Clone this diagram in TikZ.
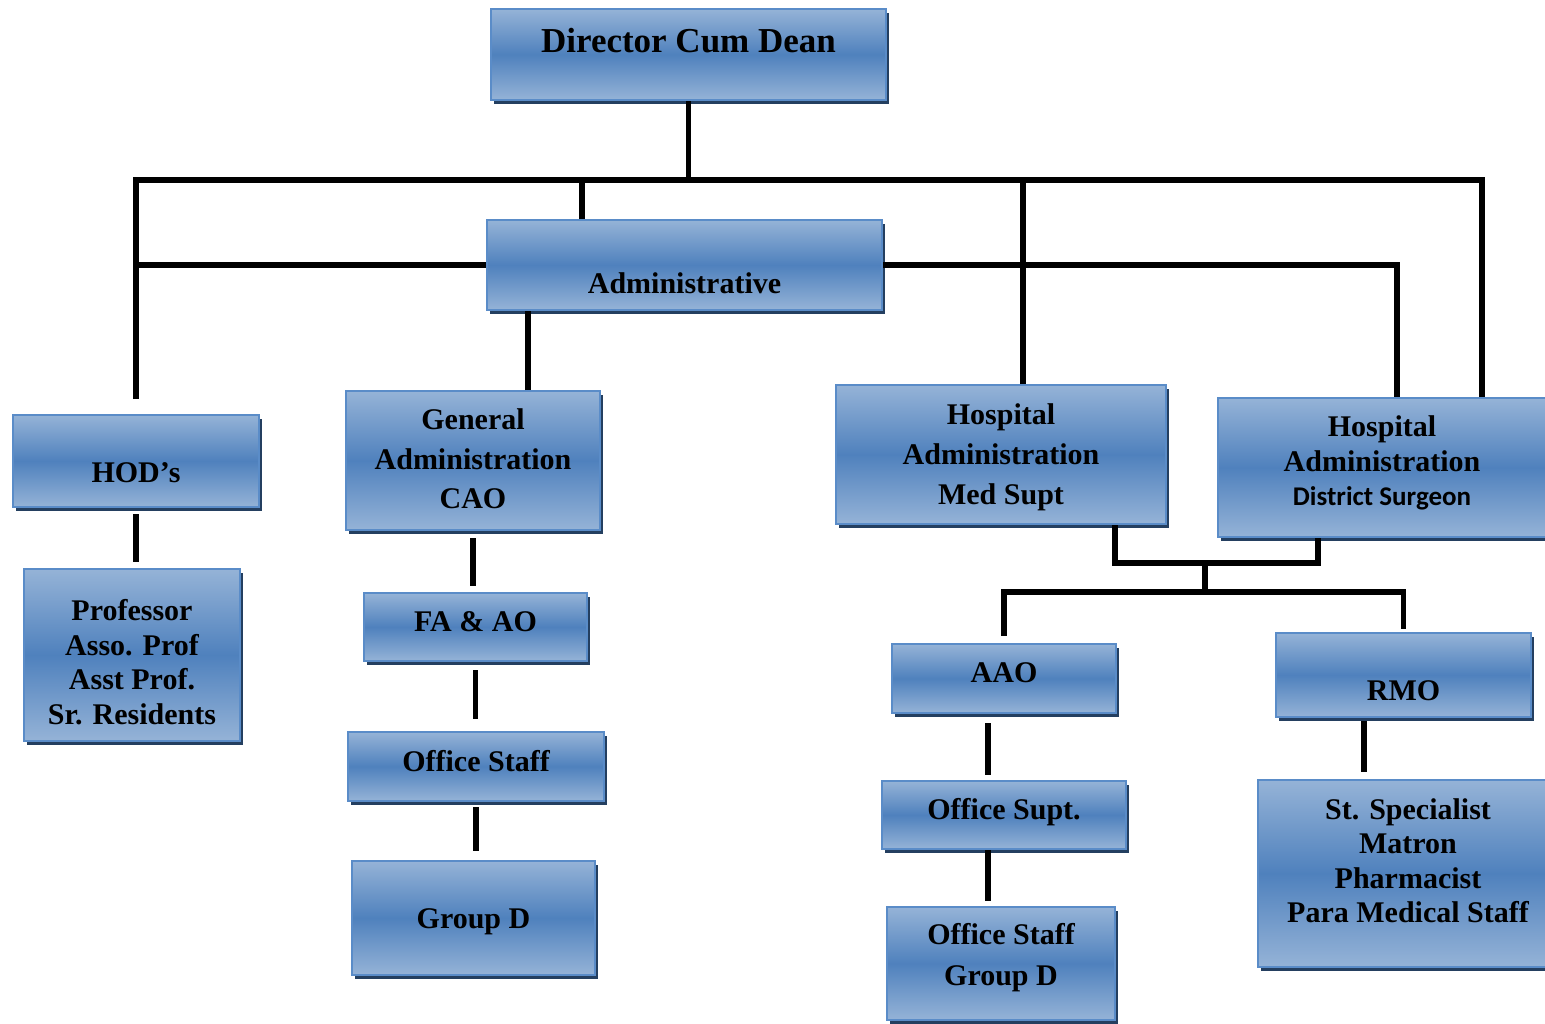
\documentclass[tikz,border=0pt]{standalone}
\usepackage{fontspec}
\setmainfont{Liberation Serif}
\newfontfamily\calibri{Carlito}
\usetikzlibrary{shadows}
\definecolor{boxlight}{HTML}{95B3D7}
\definecolor{boxmid}{HTML}{4F81BD}
\definecolor{boxedge}{HTML}{5A8CC8}
\definecolor{boxshadow}{HTML}{243F60}
% lift, row stretch, lines
\newcommand{\boxlines}[3]{\raisebox{#1}[0pt][0pt]{\renewcommand{\arraystretch}{#2}\begin{tabular}{@{}c@{}}#3\end{tabular}}}
\tikzset{
    font=\fontsize{15}{17.25}\selectfont\bfseries,
    org box/.style={rectangle,draw=boxedge,line width=1pt,inner sep=0pt,
        top color=boxlight,bottom color=boxlight,middle color=boxmid,
        drop shadow={shadow xshift=1.6pt,shadow yshift=-1.8pt,fill=boxshadow,opacity=1}},
    link/.style={line width=2.6pt},
    gap/.style 2 args={shorten <=#1,shorten >=#2}
}
\begin{document}
\begin{tikzpicture}[x=0.5pt,y=-0.5pt]
    \useasboundingbox (0,0) rectangle (1545,1023);
    \clip (0,0) rectangle (1545,1023);
    \node[org box, minimum width=197.5pt, minimum height=45.5pt, font=\fontsize{17.5}{20}\selectfont\bfseries] (dean) at (688.5,54.5) {\boxlines{0.6pt}{1}{Director Cum Dean}};
    \node[org box, minimum width=197.5pt, minimum height=45pt] (adm) at (684.5,265) {\boxlines{-14.3pt}{1}{Administrative}};
    \node[org box, minimum width=123pt, minimum height=46pt] (hod) at (136,461) {\boxlines{-10.8pt}{1}{HOD’s}};
    \node[org box, minimum width=108pt, minimum height=86pt] (prof) at (132,655) {\boxlines{-8.8pt}{1}{Professor\\Asso. Prof\\Asst Prof.\\Sr. Residents}};
    \node[org box, minimum width=127pt, minimum height=69.5pt] (ga) at (473,460.5) {\boxlines{-4pt}{1.145}{General\\Administration\\CAO}};
    \node[org box, minimum width=111.5pt, minimum height=34pt] (fa) at (475.5,627) {\boxlines{-2.3pt}{1}{FA \& AO}};
    \node[org box, minimum width=128pt, minimum height=34.5pt] (os) at (476,766.5) {\boxlines{-2.5pt}{1}{Office Staff}};
    \node[org box, minimum width=121.5pt, minimum height=57pt] (gd) at (473.5,918) {\boxlines{-5.3pt}{1}{Group D}};
    \node[org box, minimum width=165pt, minimum height=69.5pt] (hm) at (1001,454.5) {\boxlines{-4.7pt}{1.16}{Hospital\\Administration\\Med Supt}};
    \node[org box, minimum width=164pt, minimum height=69.5pt] (ds) at (1382,467.5) {\boxlines{-2pt}{1}{Hospital\\Administration\\{\calibri\fontsize{13.5}{16}\selectfont District Surgeon}}};
    \node[org box, minimum width=112pt, minimum height=34.5pt] (aao) at (1004,678.5) {\boxlines{-2pt}{1}{AAO}};
    \node[org box, minimum width=127.5pt, minimum height=42pt] (rmo) at (1403.5,675) {\boxlines{-12.8pt}{1}{RMO}};
    \node[org box, minimum width=122pt, minimum height=34pt] (osup) at (1004,815) {\boxlines{-2.3pt}{1}{Office Supt.}};
    \node[org box, minimum width=114pt, minimum height=56.5pt] (osgd) at (1001,963.5) {\boxlines{-0.1pt}{1.19}{Office Staff\\Group D}};
    \node[org box, minimum width=150pt, minimum height=93.5pt] (ss) at (1408,873.5) {\boxlines{1pt}{1}{St. Specialist\\Matron\\Pharmacist\\Para Medical Staff}};
    \coordinate (busL) at (136,180);
    \coordinate (busR) at (1482,180);
    \coordinate (hsplit) at (1205,563);
    \coordinate (lsplit) at (1205,592);
    % top level
    \draw[link] (dean.south) -- (dean.south |- busL);
    \draw[link, shorten <=7.5pt] (hod.north) |- (busR) -- (busR |- ds.north);
    \draw[link] ([xshift=48pt]adm.north west) -- ([xshift=48pt]adm.north west |- busL);
    \draw[link] ([xshift=11pt]hm.north) -- ([xshift=11pt]hm.north |- busL);
    \draw[link] (adm.west) -- (adm.west -| hod.north);
    \draw[link] (adm.east) -| ([xshift=7.5pt]ds.north);
    \draw[link] ([xshift=27.5pt]ga.north) -- ([xshift=27.5pt]ga.north |- adm.south);
    % left columns
    \draw[link, gap={3pt}{3pt}] (hod.south) -- (hod.south |- prof.north);
    \draw[link, gap={3.5pt}{3pt}] (ga.south) -- (ga.south |- fa.north);
    \draw[link, gap={4pt}{6pt}] (fa.south) -- (fa.south |- os.north);
    \draw[link, gap={2.5pt}{4.5pt}] (os.south) -- (os.south |- gd.north);
    % hospital side
    \draw[link] ([xshift=57pt]hm.south) |- (hsplit) -| ([xshift=-32pt]ds.south);
    \draw[link] (hsplit) -- (lsplit);
    \draw[link, shorten >=3.5pt] (lsplit) -| (aao.north);
    \draw[link, shorten >=1.5pt] (lsplit) -| (rmo.north);
    \draw[link, gap={4.5pt}{2.5pt}] ([xshift=-8pt]aao.south) -- ([xshift=-8pt]aao.south |- osup.north);
    \draw[link, gap={0pt}{2.5pt}] ([xshift=-8pt]osup.south) -- ([xshift=-8pt]osup.south |- osgd.north);
    \draw[link, gap={1.5pt}{3.5pt}] ([xshift=-19.75pt]rmo.south) -- ([xshift=-19.75pt]rmo.south |- ss.north);
\end{tikzpicture}
\end{document}
